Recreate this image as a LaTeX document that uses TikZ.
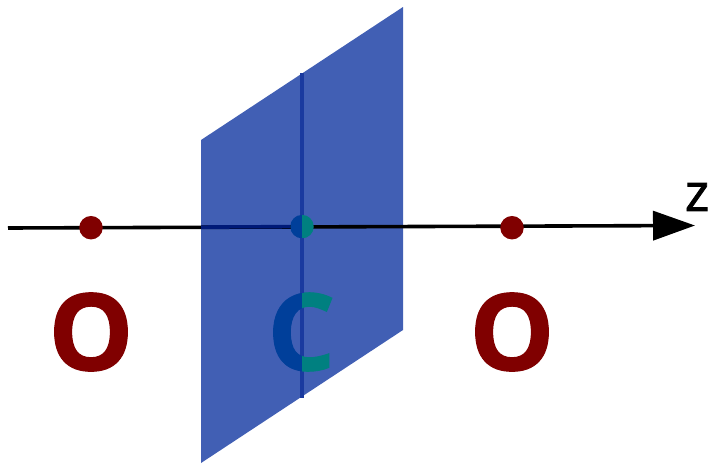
\documentclass[tikz,border=0pt]{standalone}
\usepackage{fontspec}
\setmainfont{Open Sans}
\newfontfamily\atomfont[FakeBold=1]{Open Sans Bold}
\newfontfamily\zfont[FakeBold=1.5]{Open Sans}
\usetikzlibrary{arrows.meta}
\definecolor{planeblue}{HTML}{415FB4}
\definecolor{axisnavy}{HTML}{001A78}
\definecolor{ridgeblue}{HTML}{1A3A9F}
\definecolor{cblue}{HTML}{003F9A}
\definecolor{cteal}{HTML}{008080}
\definecolor{oxred}{HTML}{800000}
\tikzset{
  atomlabel/.style={font=\fontsize{107}{107}\atomfont,inner sep=0pt},
  atomdot/.style={circle,inner sep=0pt,minimum size=23.5pt},
  axisline/.style={line width=3.6pt},
}
\begin{document}
\begin{tikzpicture}[x=1pt,y=-1pt]
\useasboundingbox (0,0) rectangle (708,463);
\coordinate (axisstart) at (8,228);
\coordinate (axisend) at (695,225.5);
\coordinate (axismid) at (302,226.6);
\coordinate (ridgetop) at (302,73);
\coordinate (ridgebot) at (302,398);
\fill[planeblue] (201,140) -- (403,7) -- (403,330) -- (201,463) -- cycle;
\draw[axisline,-{Triangle[length=42pt,width=29pt]}] (axisstart) -- (axisend);
\begin{scope}
  \clip (201,200) rectangle (290,250);
  \draw[axisline,axisnavy] (axisstart) -- (axismid);
\end{scope}
\draw[line width=3.8pt,ridgeblue] (ridgetop) -- (ridgebot);
\node[atomdot,fill=oxred] (dotL) at (91,227.7) {};
\node[atomdot,fill=oxred] (dotR) at (512,227.7) {};
\node[atomlabel,text=oxred] (labL) at (91,332) {O};
\node[atomlabel,text=oxred] (labR) at (512,332) {O};
\begin{scope}
  \clip (200,200) rectangle (302,420);
  \node[atomdot,fill=cblue] (dotC) at (302,226.6) {};
  \node[atomlabel,text=cblue] (labC) at (301.5,332) {C};
\end{scope}
\begin{scope}
  \clip (302,200) rectangle (400,420);
  \node[atomdot,fill=cteal] at (302,226.6) {};
  \node[atomlabel,text=cteal] at (301.5,332) {C};
\end{scope}
\draw[line width=3.8pt,ridgeblue] (302,238) -- (302,293);
\node[font=\fontsize{52}{52}\zfont,inner sep=0pt] (zlab) at (697,197) {z};
\end{tikzpicture}
\end{document}
